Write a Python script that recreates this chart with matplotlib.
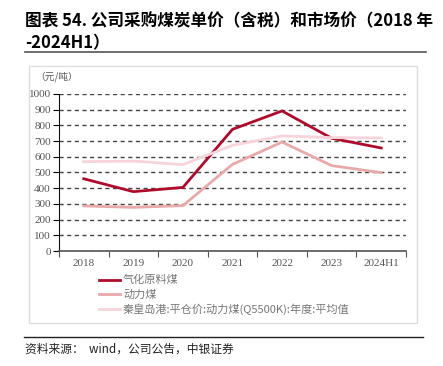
import matplotlib.pyplot as plt
from matplotlib.patches import Rectangle
from matplotlib.lines import Line2D

plt.rcParams['font.family'] = ['Noto Sans CJK SC', 'DejaVu Sans']

years = ['2018', '2019', '2020', '2021', '2022', '2023', '2024H1']
gas_coal = [460, 378, 405, 775, 892, 718, 656]
power_coal = [287, 278, 289, 552, 694, 544, 499]
qhd_price = [569, 573, 550, 673, 733, 722, 720]

names = ['气化原料煤', '动力煤', '秦皇岛港:平仓价:动力煤(Q5500K):年度:平均值']
colors = ['#AE0C2A', '#E8A9A8', '#F7D3DA']

fig = plt.figure(figsize=(4.43, 3.66), dpi=100)

# title
fig.text(0.056, 0.967, '图表 54. 公司采购煤炭单价（含税）和市场价（2018 年\n-2024H1）',
         fontsize=12, fontweight='bold', va='top', ha='left', linespacing=1.3)
fig.add_artist(Line2D([0.056, 0.962], [0.858, 0.858], color='#555555', lw=1.2))

# chart frame
fig.add_artist(Rectangle((0.0655, 0.1175), 0.876, 0.702, transform=fig.transFigure,
                         fill=False, edgecolor='#DDDDDD', lw=1))

ax = fig.add_axes([0.1332, 0.3142, 0.7833, 0.429])
x = range(len(years))
for vals, c, n in zip([gas_coal, power_coal, qhd_price], colors, names):
    ax.plot(x, vals, color=c, lw=2, label=n)

ax.set_xlim(-0.5, len(years) - 0.5)
ax.set_ylim(0, 1000)
ax.set_yticks(range(0, 1001, 100))
ax.set_xticks([i - 0.5 for i in range(len(years) + 1)], minor=False)
ax.set_xticklabels([])
ax.set_xticks(list(x), minor=True)
ax.set_xticklabels(years, minor=True)
ax.tick_params(axis='x', which='minor', length=0, pad=6)
ax.tick_params(axis='x', which='major', length=4, direction='out', color='#555555')
ax.tick_params(axis='y', length=4, direction='out', pad=2)
for lab in ax.get_xticklabels(minor=True) + ax.get_yticklabels():
    lab.set_fontfamily('Liberation Serif')
    lab.set_fontsize(8)
    lab.set_color('#555555')
ax.grid(axis='y', linestyle=(0, (3, 2.5)), color='#444444', lw=1)
ax.set_axisbelow(True)
for s in ['top', 'right']:
    ax.spines[s].set_visible(False)
ax.spines['left'].set_color('#111111')
ax.spines['bottom'].set_color('#555555')
ax.spines['bottom'].set_linewidth(1.2)

fig.text(0.079, 0.79, '（元/吨）', fontsize=7, color='#555555', va='center')

leg = ax.legend(loc='upper left', bbox_to_anchor=(0.085, -0.09), frameon=False,
                fontsize=8, handlelength=1.9, handletextpad=0.3, labelspacing=0.35)
for t in leg.get_texts():
    t.set_color('#777777')

# source line
fig.add_artist(Line2D([0.054, 0.955], [0.079, 0.079], color='#222222', lw=1))
fig.text(0.056, 0.047, '资料来源：  wind，公司公告，中银证券', fontsize=8.5,
         style='italic', va='center', ha='left', color='#222222')

fig.savefig('out.png', dpi=100)
